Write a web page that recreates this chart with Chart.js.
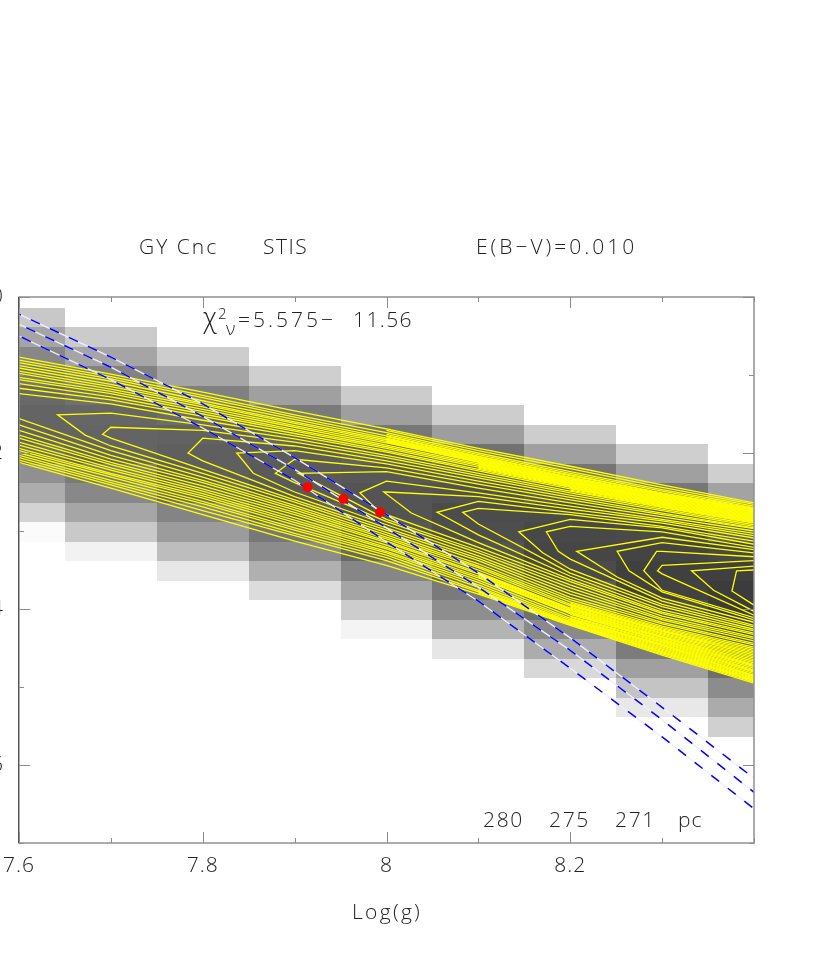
<!DOCTYPE html>
<html>
<head>
<meta charset="utf-8">
<title>GY Cnc STIS</title>
<script src="https://cdn.jsdelivr.net/npm/chart.js@4"></script>
<style>
  html, body { margin: 0; padding: 0; background: #fff; }
  canvas { display: block; }
</style>
</head>
<body>
<canvas id="fitChart" width="830" height="969"></canvas>
<script>
// ---- data ----
const logG = [7.6, 7.7, 7.8, 7.9, 8.0, 8.1, 8.2, 8.3, 8.4];
const xTickLabels = [7.6, 7.8, 8, 8.2];
const yTickLabels = [20, 22, 24, 26];

// chi2 map: one column of grey levels per log(g), row height 0.25
const cellRowHeight = 0.25;
const cellTopT = [20.14, 20.39, 20.64, 20.89, 21.14, 21.39, 21.64, 21.89, 22.14];
const cellGrey = [
  [200,165,135,118,105,100,100,110,144,173,211,251],
  [203,165,130,112,102,100,100,122,136,166,201,242],
  [205,165,128,108,98,95,95,105,132,156,189,231],
  [207,160,122,102,92,90,90,100,120,140,176,220],
  [204,159,119,98,88,84,84,88,105,134,165,204,244],
  [205,158,114,92,82,76,78,84,98,122,142,180,230],
  [205,160,117,90,76,72,70,75,90,112,138,172,216],
  [207,160,119,90,74,68,64,66,78,95,124,160,196,232],
  [207,163,125,95,72,64,60,60,72,86,110,140,171,208]
];

// contours that leave through the left edge
const openUpper = [
  [20.77,20.99,21.22,21.46,21.69,21.94,22.17,22.41,22.64],
  [20.81,21.02,21.26,21.51,21.74,22.00,22.24,22.47,22.68],
  [20.84,21.05,21.29,21.54,21.78,22.04,22.28,22.51,22.71],
  [20.88,21.08,21.33,21.57,21.81,22.06,22.31,22.53,22.73],
  [20.91,21.12,21.36,21.60,21.83,22.08,22.33,22.54,22.74],
  [20.95,21.15,21.38,21.62,21.85,22.10,22.35,22.56,22.76],
  [20.98,21.18,21.41,21.65,21.87,22.12,22.37,22.58,22.78],
  [21.03,21.21,21.44,21.67,21.90,22.14,22.38,22.60,22.80],
  [21.06,21.24,21.47,21.70,21.92,22.16,22.40,22.62,22.82],
  [21.11,21.28,21.50,21.72,21.94,22.18,22.42,22.64,22.84],
  [21.17,21.32,21.53,21.75,21.97,22.21,22.44,22.66,22.86],
  [21.24,21.37,21.58,21.78,21.99,22.23,22.46,22.68,22.88]
];
const openLower = [
  [21.56,21.97,22.31,22.67,23.05,23.45,23.91,24.24,24.51],
  [21.64,22.03,22.35,22.70,23.08,23.47,23.94,24.27,24.55],
  [21.71,22.08,22.38,22.73,23.10,23.50,23.96,24.29,24.59],
  [21.77,22.12,22.42,22.76,23.13,23.53,23.99,24.32,24.63],
  [21.81,22.15,22.46,22.79,23.15,23.55,24.01,24.35,24.67],
  [21.86,22.19,22.49,22.83,23.18,23.58,24.04,24.37,24.71],
  [21.90,22.22,22.52,22.86,23.21,23.60,24.06,24.40,24.74],
  [21.94,22.26,22.55,22.89,23.23,23.63,24.09,24.42,24.78],
  [21.97,22.28,22.58,22.92,23.26,23.66,24.12,24.45,24.81],
  [22.00,22.31,22.62,22.96,23.28,23.69,24.14,24.47,24.85],
  [22.03,22.35,22.65,22.99,23.31,23.72,24.16,24.50,24.87],
  [22.06,22.38,22.69,23.03,23.34,23.76,24.18,24.53,24.90],
  [22.09,22.41,22.74,23.06,23.38,23.78,24.19,24.56,24.92],
  [22.12,22.45,22.79,23.13,23.44,23.81,24.21,24.59,24.95]
];
// tightly packed contours that only show up as the band gets solid to the right
const packedUpper = [
  [null,null,null,null,21.71,21.97,22.20,22.44,22.66],
  [null,null,null,null,21.76,22.02,22.26,22.49,22.70],
  [null,null,null,null,21.79,22.05,22.29,22.52,22.72],
  [null,null,null,null,21.82,22.07,22.32,22.535,22.735],
  [null,null,null,null,21.84,22.09,22.34,22.55,22.75],
  [null,null,null,null,21.86,22.11,22.36,22.57,22.77],
  [null,null,null,null,null,22.13,22.375,22.59,22.79],
  [null,null,null,null,null,22.15,22.39,22.61,22.81],
  [null,null,null,null,null,22.17,22.41,22.63,22.83],
  [null,null,null,null,null,22.195,22.43,22.65,22.85],
  [null,null,null,null,null,null,22.45,22.67,22.87],
  [null,null,null,null,null,null,22.475,22.69,22.89]
];
const packedLower = [
  [null,null,null,null,null,null,23.925,24.255,24.53],
  [null,null,null,null,null,null,23.95,24.28,24.57],
  [null,null,null,null,null,null,23.975,24.305,24.61],
  [null,null,null,null,null,23.54,24.00,24.335,24.65],
  [null,null,null,null,null,23.565,24.025,24.36,24.69],
  [null,null,null,null,null,23.59,24.05,24.385,24.725],
  [null,null,null,null,null,null,24.07,24.41,24.76],
  [null,null,null,null,null,null,24.105,24.435,24.795],
  [null,null,null,null,null,null,24.13,24.46,24.83],
  [null,null,null,null,null,null,24.15,24.485,24.86],
  [null,null,null,null,null,23.74,24.17,24.515,24.885],
  [null,null,null,null,null,23.77,24.185,24.545,24.91],
  [null,null,null,null,null,23.795,24.20,24.575,24.935]
];

// contours that close inside the plot: upper branch, turning points, lower branch
const closedUpper = [
  [null,21.49,21.64,21.82,22.03,22.26,22.49,22.70,22.90],
  [null,21.67,21.71,21.86,22.06,22.29,22.51,22.72,22.92],
  [null,null,21.81,21.91,22.10,22.32,22.54,22.74,22.94],
  [null,null,null,21.97,22.14,22.36,22.57,22.77,22.96],
  [null,null,null,22.08,22.19,22.40,22.60,22.79,22.97],
  [null,null,null,null,22.24,22.45,22.64,22.82,23.00],
  [null,null,null,null,22.36,22.51,22.68,22.85,23.03],
  [null,null,null,null,22.50,22.56,22.72,22.87,23.06],
  [null,null,null,null,null,22.62,22.76,22.90,23.09],
  [null,null,null,null,null,22.71,22.79,22.94,23.13],
  [null,null,null,null,null,null,22.85,22.96,23.17],
  [null,null,null,null,null,null,22.94,23.01,23.21],
  [null,null,null,null,null,null,null,23.08,23.24],
  [null,null,null,null,null,null,null,23.15,23.28],
  [null,null,null,null,null,null,null,23.26,23.33],
  [null,null,null,null,null,null,null,23.44,23.38],
  [null,null,null,null,null,null,null,null,23.45],
  [null,null,null,null,null,null,null,null,23.50]
];
const closedTips = [
  [[7.642,21.51],[7.672,21.77]],
  [[7.691,21.76]],
  [[7.784,22.00]],
  [[7.837,22.00],[7.855,22.26]],
  [[7.879,22.26]],
  [[7.904,22.26]],
  [[7.971,22.51],[7.99,22.73]],
  [[7.997,22.50],[8.027,22.77]],
  [[8.055,22.76]],
  [[8.083,22.76]],
  [[8.144,23.01],[8.170,23.28]],
  [[8.174,23.01],[8.187,23.26]],
  [[8.207,23.26],[8.251,23.59]],
  [[8.251,23.26],[8.264,23.51]],
  [[8.294,23.26],[8.280,23.51]],
  [[8.295,23.51]],
  [[8.332,23.51],[8.356,23.76]],
  [[8.381,23.51],[8.376,23.77]]
];
const closedLower = [
  [null,21.91,22.26,22.63,23.02,23.42,23.88,24.22,24.49],
  [null,21.81,22.21,22.60,22.99,23.38,23.85,24.19,24.46],
  [null,null,22.10,22.56,22.96,23.35,23.81,24.17,24.44],
  [null,null,null,22.50,22.92,23.32,23.77,24.14,24.41],
  [null,null,null,22.38,22.88,23.28,23.73,24.12,24.38],
  [null,null,null,null,22.85,23.25,23.69,24.09,24.36],
  [null,null,null,null,22.79,23.21,23.65,24.06,24.33],
  [null,null,null,null,null,23.15,23.62,24.04,24.31],
  [null,null,null,null,null,23.05,23.58,24.01,24.28],
  [null,null,null,null,null,22.91,23.54,23.97,24.26],
  [null,null,null,null,null,null,23.49,23.94,24.23],
  [null,null,null,null,null,null,23.36,23.90,24.21],
  [null,null,null,null,null,null,null,23.86,24.17],
  [null,null,null,null,null,null,null,23.78,24.14],
  [null,null,null,null,null,null,null,23.76,24.11],
  [null,null,null,null,null,null,null,23.55,24.08],
  [null,null,null,null,null,null,null,null,24.03],
  [null,null,null,null,null,null,null,null,23.95]
];

// constant distance tracks, 280 / 275 / 271 pc
const track280 = [20.22,20.77,21.37,22.06,22.79,23.54,24.37,25.26,26.17];
const track275 = [20.35,20.90,21.53,22.21,22.96,23.72,24.53,25.42,26.35];
const track271 = [20.50,21.06,21.68,22.35,23.14,23.90,24.76,25.64,26.56];

const fitLogG = [7.914, 7.953, 7.993];
const fitT = [22.44, 22.59, 22.76];

// ---- helpers ----
function columnPoints(values) {
  const pts = [];
  values.forEach((v, i) => { if (v !== null) pts.push({ x: logG[i], y: v }); });
  return pts;
}

function contourDataset(points) {
  return { data: points, showLine: true, borderColor: '#ffff00', borderWidth: 1.3, pointRadius: 0, order: 5 };
}

const datasets = [];
[...openUpper, ...openLower, ...packedUpper, ...packedLower].forEach(v => datasets.push(contourDataset(columnPoints(v))));
closedUpper.forEach((v, i) => {
  const tip = closedTips[i].map(p => ({ x: p[0], y: p[1] }));
  datasets.push(contourDataset(columnPoints(v).reverse().concat(tip, columnPoints(closedLower[i]))));
});
[track280, track275, track271].forEach((v, i) => {
  datasets.push({ data: columnPoints(v), showLine: true, borderColor: '#eeeeff', borderWidth: 1.3, pointRadius: 0, order: 4 });
  datasets.push({ data: columnPoints(v), showLine: true, borderColor: '#0000ff', borderWidth: 1.5, pointRadius: 0, borderDash: [10, 11], borderDashOffset: 8 + 5 * i, order: 3 });
});
datasets.push({
  data: fitLogG.map((x, i) => ({ x: x, y: fitT[i] })),
  showLine: false, pointRadius: 5, pointHoverRadius: 5, pointBackgroundColor: '#ff0000', pointBorderWidth: 0, order: 1
});

// grey cells go under everything
const greyCells = {
  id: 'greyCells',
  beforeDraw(chart) { chart.ctx.letterSpacing = '1px'; },
  beforeDatasetsDraw(chart) {
    const { ctx, chartArea, scales } = chart;
    ctx.save();
    ctx.beginPath();
    ctx.rect(chartArea.left, chartArea.top, chartArea.width, chartArea.height);
    ctx.clip();
    cellGrey.forEach((col, c) => {
      const x0 = Math.round(scales.x.getPixelForValue(logG[c] - 0.05));
      const x1 = Math.round(scales.x.getPixelForValue(logG[c] + 0.05));
      col.forEach((g, r) => {
        const y0 = Math.round(scales.y.getPixelForValue(cellTopT[c] + r * cellRowHeight));
        const y1 = Math.round(scales.y.getPixelForValue(cellTopT[c] + (r + 1) * cellRowHeight));
        ctx.fillStyle = `rgb(${g},${g},${g})`;
        ctx.fillRect(x0, y0, x1 - x0, y1 - y0);
      });
    });
    ctx.restore();
  }
};

// box with the ticks on the inside, all four sides
const plotFrame = {
  id: 'plotFrame',
  afterDatasetsDraw(chart) {
    const { ctx, chartArea: a, scales } = chart;
    ctx.save();
    ctx.lineWidth = 1;
    ctx.strokeStyle = '#8a8a8a';
    scales.x.ticks.forEach(t => {
      const len = xTickLabels.some(v => Math.abs(v - t.value) < 1e-6) ? 11 : 5;
      const px = Math.round(scales.x.getPixelForValue(t.value)) + 0.5;
      ctx.beginPath();
      ctx.moveTo(px, a.bottom); ctx.lineTo(px, a.bottom - len);
      ctx.moveTo(px, a.top); ctx.lineTo(px, a.top + len);
      ctx.stroke();
    });
    scales.y.ticks.forEach(t => {
      const len = yTickLabels.includes(t.value) ? 11 : 5;
      const py = Math.round(scales.y.getPixelForValue(t.value)) + 0.5;
      ctx.beginPath();
      ctx.moveTo(a.left, py); ctx.lineTo(a.left + len, py);
      ctx.moveTo(a.right, py); ctx.lineTo(a.right - len, py);
      ctx.stroke();
    });
    ctx.lineWidth = 1.5;
    ctx.strokeStyle = '#909090';
    ctx.strokeRect(a.left, a.top, a.width, a.height);
    ctx.lineWidth = 1;
    ctx.strokeStyle = '#555';
    ctx.beginPath();
    ctx.moveTo(a.left - 0.5, a.top); ctx.lineTo(a.left - 0.5, a.bottom);
    ctx.stroke();
    ctx.restore();
  }
};

// free text around the plot: text, x, baseline, letter spacing
const FONT_FAMILY = 'Open Sans';
const FONT = '300 21px "Open Sans"';
const notes = [
  ['GY Cnc', 139, 254, 2], ['STIS', 263, 254, 1.5], ['E(B\u2212V)=0.010', 476, 254, 3],
  ['=5.575\u2212', 238, 327, 3], ['11.56', 353, 327, 1.4],
  ['280', 483, 827, 1.7], ['275', 549, 827, 1.7], ['271', 615, 827, 1.7], ['pc', 678, 827, 1],
  ['Log(g)', 352, 919, 2.3]
];
const textNotes = {
  id: 'textNotes',
  afterDraw(chart) {
    const ctx = chart.ctx;
    ctx.save();
    ctx.fillStyle = '#222';
    ctx.textBaseline = 'alphabetic';
    ctx.font = FONT;
    notes.forEach(n => {
      ctx.letterSpacing = n[3] + 'px';
      ctx.fillText(n[0], n[1], n[2]);
    });
    ctx.letterSpacing = '0px';
    ctx.font = '300 27px "Open Sans"';
    ctx.fillText('\u03c7', 203, 327);
    ctx.font = '300 15px "Open Sans"';
    ctx.fillText('2', 218, 319);
    ctx.font = '300 18px "Open Sans"';
    ctx.fillText('\u03bd', 226, 335);
    ctx.restore();
  }
};

const tickFont = { family: FONT_FAMILY, size: 21, weight: 300 };

new Chart(document.getElementById('fitChart'), {
  type: 'scatter',
  data: { datasets: datasets },
  plugins: [greyCells, plotFrame, textNotes],
  options: {
    responsive: false,
    animation: false,
    layout: { padding: { top: 297, right: 76, bottom: 0, left: 0 } },
    plugins: { legend: { display: false }, tooltip: { enabled: false } },
    scales: {
      x: {
        type: 'linear', min: 7.6, max: 8.4,
        afterFit(scale) { scale.height = 126; },
        grid: { drawOnChartArea: false, drawTicks: true, tickLength: 10, tickColor: 'transparent' },
        border: { display: false },
        ticks: {
          stepSize: 0.1, autoSkip: false, maxRotation: 0, padding: 0,
          color: '#222', font: tickFont,
          callback(v) {
            const hit = xTickLabels.find(l => Math.abs(l - v) < 1e-6);
            return hit === undefined ? '' : String(hit);
          }
        }
      },
      y: {
        type: 'linear', reverse: true, min: 20, max: 27,
        afterFit(scale) { scale.width = 19; },
        grid: { display: false, drawTicks: false },
        border: { display: false },
        ticks: {
          stepSize: 1, autoSkip: false, padding: 15,
          color: '#222', font: tickFont,
          callback(v) { return yTickLabels.includes(v) ? String(v) : ''; }
        }
      }
    }
  }
});
</script>
</body>
</html>
